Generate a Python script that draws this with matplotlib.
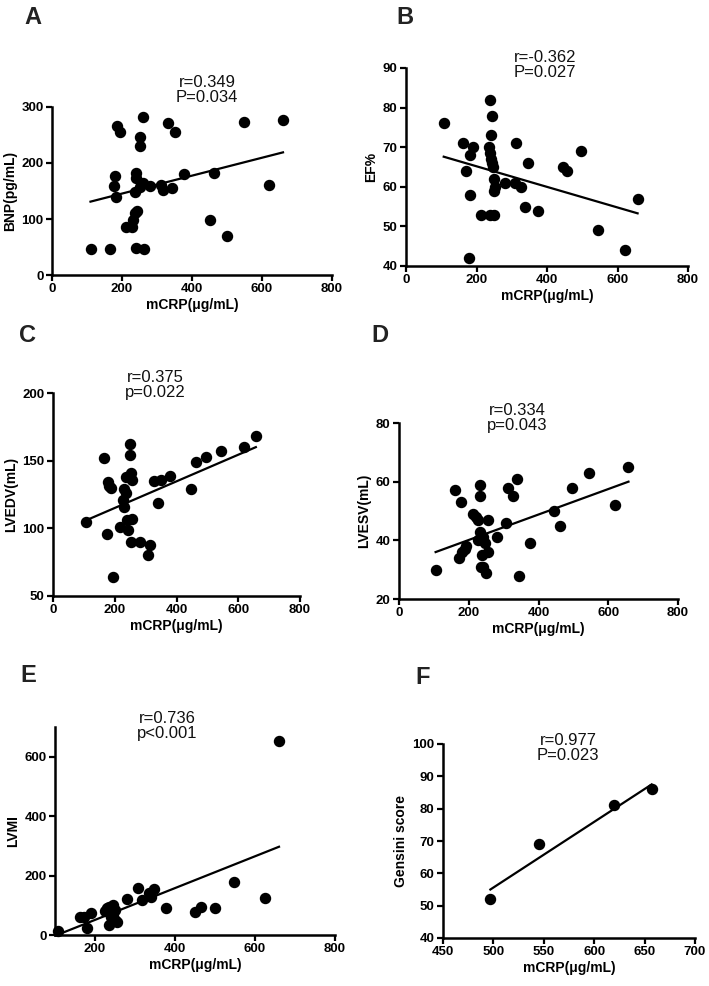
"""
Scatter panels: mCRP vs. cardiac parameters (A-F) with linear fit lines.
"""

import matplotlib.pyplot as plt

plt.rcParams['font.family'] = ['Liberation Sans', 'DejaVu Sans']

# Panel A - BNP
mcrp_a = [111, 165, 186, 195, 181, 176, 184, 212, 229, 231, 238, 243, 236, 241, 241, 250, 260,
          252, 252, 260, 241, 262, 281, 311, 316, 343, 330, 350, 378, 462, 450, 500, 548, 619, 660]
bnp = [46, 46, 266, 255, 177, 159, 139, 85, 85, 98, 110, 114, 149, 183, 174, 157, 164,
       230, 247, 283, 48, 46, 159, 161, 152, 155, 272, 255, 180, 182, 98, 69, 274, 161, 277]
fit_a_x = [110, 660]
fit_a_y = [131, 219]

# Panel B - EF%
mcrp_b = [107, 161, 190, 182, 171, 181, 178, 213, 239, 251, 239, 244, 241, 236, 238, 241, 244,
          246, 249, 249, 253, 280, 312, 310, 326, 345, 337, 374, 444, 458, 496, 544, 622, 657]
ef = [76, 71, 70, 68, 64, 58, 42, 53, 53, 53, 82, 78, 73, 70, 68.5, 67, 66,
      65, 62, 59, 60, 61, 71, 61, 60, 66, 55, 54, 65, 64, 69, 49, 44, 57]
fit_b_x = [107, 657]
fit_b_y = [67.6, 53.3]

# Panel C - LVEDV
mcrp_c = [108, 164, 177, 180, 188, 175, 194, 216, 231, 228, 237, 231, 237, 248, 250, 252, 255,
          239, 244, 255, 252, 282, 314, 309, 328, 349, 341, 379, 446, 462, 496, 545, 618, 657]
lvedv = [105, 152, 134, 131, 130, 96, 64, 101, 116, 121, 126, 129, 138, 162, 154, 141, 136,
         106, 99, 107, 90, 90, 88, 80, 135, 136, 119, 139, 129, 149, 153, 157, 160, 168]
fit_c_x = [108, 657]
fit_c_y = [106, 160]

# Panel D - LVESV
mcrp_d = [105, 160, 177, 171, 181, 188, 192, 213, 222, 232, 232, 227, 232, 227, 237, 241, 246, 235,
          241, 249, 239, 254, 254, 280, 306, 313, 328, 339, 345, 375, 445, 462, 497, 545, 620, 656]
lvesv = [30, 57, 53, 34, 36, 37, 38, 49, 48, 59, 55, 47, 43, 40, 40, 41, 39, 31,
         31, 29, 35, 36, 47, 41, 46, 58, 55, 61, 28, 39, 50, 45, 58, 63, 52, 65]
fit_d_x = [105, 658]
fit_d_y = [36, 60]

# Panel E - LVMI
mcrp_e = [108, 162, 179, 173, 190, 225, 230, 235, 240, 245, 235, 250, 255, 245, 250, 240,
          280, 307, 317, 334, 347, 341, 378, 450, 464, 500, 548, 624, 660]
lvmi = [13, 62, 22, 60, 75, 80, 90, 95, 60, 70, 35, 50, 45, 100, 85, 75,
        120, 157, 118, 140, 154, 129, 90, 78, 95, 90, 179, 123, 654]
fit_e_x = [105, 660]
fit_e_y = [0, 297]

# Panel F - Gensini score
mcrp_f = [497, 545, 620, 657]
gensini = [52, 69, 81, 86]
fit_f_x = [497, 657]
fit_f_y = [55, 87.5]

W, H = 709, 986


def px_box(left, right, top, bottom):
    """Convert pixel box (from top-left) to figure fraction [l, b, w, h]."""
    return [left / W, (H - bottom) / H, (right - left) / W, (bottom - top) / H]


def draw_panel(fig, box, x, y, fit_x, fit_y, xlim, ylim, xticks, yticks, ylabel):
    ax = fig.add_axes(box)
    ax.scatter(x, y, s=52, color='black', zorder=3, clip_on=False)
    ax.plot(fit_x, fit_y, color='black', lw=1.6, zorder=2)
    ax.set_xlim(*xlim)
    ax.set_ylim(*ylim)
    ax.set_xticks(xticks)
    ax.set_yticks(yticks)
    for side in ['top', 'right']:
        ax.spines[side].set_visible(False)
    for side in ['left', 'bottom']:
        ax.spines[side].set_linewidth(1.8)
    ax.tick_params(direction='out', length=4, width=1.6, labelsize=9.5, pad=2)
    for lbl in ax.get_xticklabels() + ax.get_yticklabels():
        lbl.set_fontweight('bold')
    ax.set_xlabel('mCRP(μg/mL)', fontsize=10, fontweight='bold', labelpad=2)
    ax.set_ylabel(ylabel, fontsize=10, fontweight='bold', labelpad=3)
    return ax


fig = plt.figure(figsize=(W / 100, H / 100), dpi=100)

draw_panel(fig, px_box(52, 332, 107, 275), mcrp_a, bnp, fit_a_x, fit_a_y,
           (0, 800), (0, 300), range(0, 801, 200), range(0, 301, 100), 'BNP(pg/mL)')
draw_panel(fig, px_box(406, 688, 68, 266), mcrp_b, ef, fit_b_x, fit_b_y,
           (0, 800), (40, 90), range(0, 801, 200), range(40, 91, 10), 'EF%')
draw_panel(fig, px_box(53, 300, 393, 596), mcrp_c, lvedv, fit_c_x, fit_c_y,
           (0, 800), (50, 200), range(0, 801, 200), range(50, 201, 50), 'LVEDV(mL)')
draw_panel(fig, px_box(399, 678, 423, 599), mcrp_d, lvesv, fit_d_x, fit_d_y,
           (0, 800), (20, 80), range(0, 801, 200), range(20, 81, 20), 'LVESV(mL)')
draw_panel(fig, px_box(55, 335, 727, 935), mcrp_e, lvmi, fit_e_x, fit_e_y,
           (100, 800), (0, 700), range(200, 801, 200), range(0, 601, 200), 'LVMI')
draw_panel(fig, px_box(443, 695, 744, 938), mcrp_f, gensini, fit_f_x, fit_f_y,
           (450, 700), (40, 100), range(450, 701, 50), range(40, 101, 10), 'Gensini score')

# correlation annotations
stats = [('r=0.349\nP=0.034', 207, 90), ('r=-0.362\nP=0.027', 545, 65),
         ('r=0.375\np=0.022', 155, 385), ('r=0.334\np=0.043', 517, 418),
         ('r=0.736\np<0.001', 167, 726), ('r=0.977\nP=0.023', 568, 748)]
for txt, px, py in stats:
    fig.text(px / W, 1 - py / H, txt, ha='center', va='center', fontsize=12,
             linespacing=1.0, color='#111111')

# panel letters
letters = [('A', 33, 18), ('B', 405, 18), ('C', 28, 336), ('D', 380, 336),
           ('E', 28, 676), ('F', 423, 677)]
for letter, px, py in letters:
    fig.text(px / W, 1 - py / H, letter, ha='center', va='center', fontsize=17,
             fontweight='bold', color='#222222')

plt.savefig('out.png', dpi=100)
plt.close()
